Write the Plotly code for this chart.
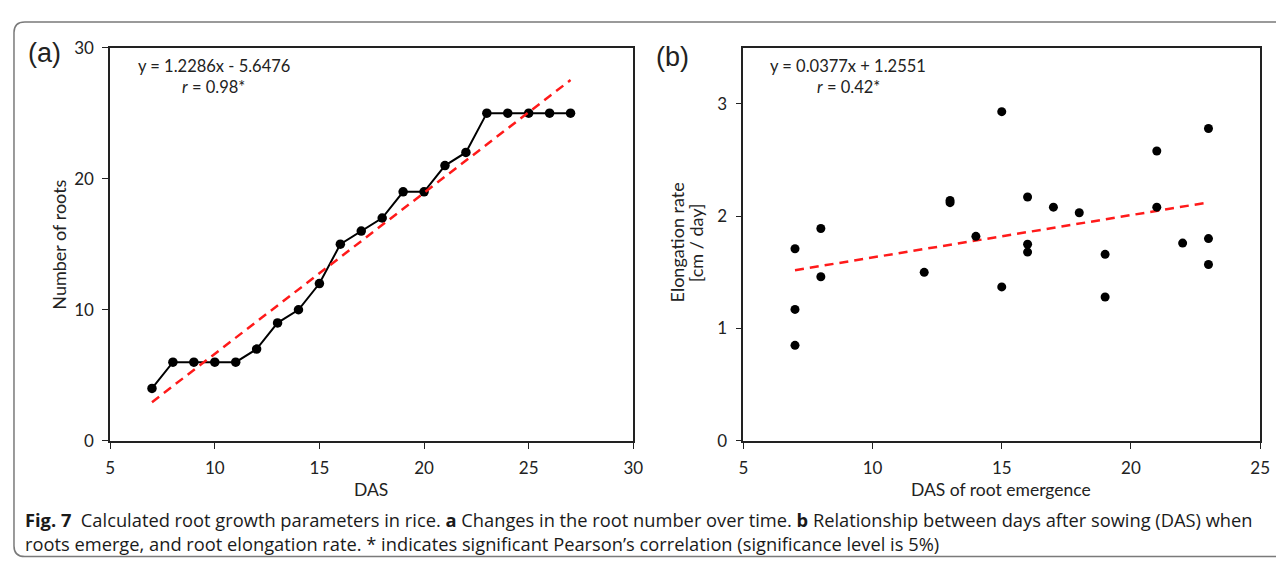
import plotly.graph_objects as go

# ---- data ----
das_a = [7, 8, 9, 10, 11, 12, 13, 14, 15, 16, 17, 18, 19, 20, 21, 22, 23, 24, 25, 26, 27]
roots_a = [4, 6, 6, 6, 6, 7, 9, 10, 12, 15, 16, 17, 19, 19, 21, 22, 25, 25, 25, 25, 25]
slope_a, icpt_a = 1.2286, -5.6476

das_b = [7, 7, 7, 8, 8, 12, 13, 13, 14, 15, 15, 16, 16, 16, 17, 18, 19, 19, 21, 21, 22, 23, 23, 23]
rate_b = [1.71, 1.17, 0.85, 1.89, 1.46, 1.50, 2.14, 2.12, 1.82, 2.93, 1.37, 2.17, 1.75, 1.68,
          2.08, 2.03, 1.66, 1.28, 2.58, 2.08, 1.76, 2.78, 1.80, 1.57]
slope_b, icpt_b = 0.0377, 1.2551

xticks_a = [5, 10, 15, 20, 25, 30]
yticks_a = [0, 10, 20, 30]
xticks_b = [5, 10, 15, 20, 25]
yticks_b = [0, 1, 2, 3]

# page body has an 8px margin; figure is sized so the page fits the 1284x576 window
OFF = 8
W, H = 1284 - OFF, 576 - 2 * OFF
def px(x):
    return (x - OFF) / W
def py(y):
    return 1 - (y - OFF) / H

FONT = "Lato"
fig = go.Figure()

# panel a
fig.add_trace(go.Scatter(x=das_a, y=roots_a, mode="lines+markers",
                         line=dict(color="black", width=2),
                         marker=dict(color="black", size=9.5),
                         xaxis="x", yaxis="y", showlegend=False))
fa = [das_a[0], das_a[-1]]
fig.add_trace(go.Scatter(x=fa, y=[slope_a * v + icpt_a for v in fa], mode="lines",
                         line=dict(color="#ff1a1a", width=2.5, dash="9px,6px"),
                         xaxis="x", yaxis="y", showlegend=False))
# panel b
fb = [min(das_b), max(das_b)]
fig.add_trace(go.Scatter(x=fb, y=[slope_b * v + icpt_b for v in fb], mode="lines",
                         line=dict(color="#ff1a1a", width=2.5, dash="9px,6px"),
                         xaxis="x2", yaxis="y2", showlegend=False))
fig.add_trace(go.Scatter(x=das_b, y=rate_b, mode="markers",
                         marker=dict(color="black", size=9),
                         xaxis="x2", yaxis="y2", showlegend=False))

axis_common = dict(showgrid=False, zeroline=False, showline=True, linecolor="#222",
                   linewidth=1.6, mirror=True, ticks="outside", ticklen=6, tickwidth=1.3,
                   tickcolor="#222", tickfont=dict(family=FONT, size=17, color="#222"),
                   ticklabelstandoff=5)
ytop, ybot = 37.7, 446.3
fig.update_layout(
    width=W, height=H, margin=dict(l=0, r=0, t=0, b=0),
    paper_bgcolor="white", plot_bgcolor="white",
    xaxis=dict(domain=[px(106.3), px(635.7)], range=[5, 30], tickvals=xticks_a,
               anchor="y", **axis_common),
    yaxis=dict(domain=[py(ybot), py(ytop)], range=[0, 30], tickvals=yticks_a,
               anchor="x", **axis_common),
    xaxis2=dict(domain=[px(747), px(1270)], range=[5, 25], tickvals=xticks_b,
                anchor="y2", **axis_common),
    yaxis2=dict(domain=[py(ybot), py(ytop)], range=[0, 3.5], tickvals=yticks_b,
                anchor="x2", **axis_common),
)

def ann(text, x, y, size=16, family=FONT, angle=0, xanchor="center", color="#222"):
    fig.add_annotation(text=text, x=px(x), y=py(y), xref="paper", yref="paper",
                       showarrow=False, xanchor=xanchor, yanchor="middle",
                       textangle=angle, font=dict(family=family, size=size, color=color))

ann("(a)", 40, 43, size=27, family="Liberation Sans")
ann("(b)", 675, 48, size=27, family="Liberation Sans")
ann("y = 1.2286x - 5.6476", 211, 57, size=16.5)
ann("<i>r</i> = 0.98*", 211, 79, size=16.5)
ann("y = 0.0377x + 1.2551", 853, 57, size=16.5)
ann("<i>r</i> = 0.42*", 853, 79, size=16.5)
ann("Number of roots", 55, 242, size=18, angle=-90)
ann("Elongation rate", 680, 240, size=18, angle=-90)
ann("[cm / day]", 699, 240, size=18, angle=-90)
ann("DAS", 370, 497, size=17.5)
ann("DAS of root emergence", 1008, 497, size=17.5)

CAP = "Open Sans"
ann("<b>Fig. 7</b>  Calculated root growth parameters in rice. <b>a</b> Changes in the root number over time. "
    "<b>b</b> Relationship between days after sowing (DAS) when", 18, 528, size=18.3, family=CAP,
    xanchor="left", color="#1a1a1a")
ann("roots emerge, and root elongation rate. * indicates significant Pearson\u2019s correlation "
    "(significance level is 5%)", 18, 553, size=18.3, family=CAP, xanchor="left", color="#1a1a1a")

# outer rounded frame (bottom edge kept inside the figure)
yb = 566.5
fig.add_shape(type="path", xref="paper", yref="paper",
              path=(f"M {px(1295)} {py(11)} L {px(20)} {py(11)} "
                    f"Q {px(9)} {py(11)} {px(9)} {py(22)} L {px(9)} {py(yb - 11)} "
                    f"Q {px(9)} {py(yb)} {px(20)} {py(yb)} L {px(1295)} {py(yb)}"),
              line=dict(color="#7a7a7a", width=1.5))

fig.write_html("out.html")
